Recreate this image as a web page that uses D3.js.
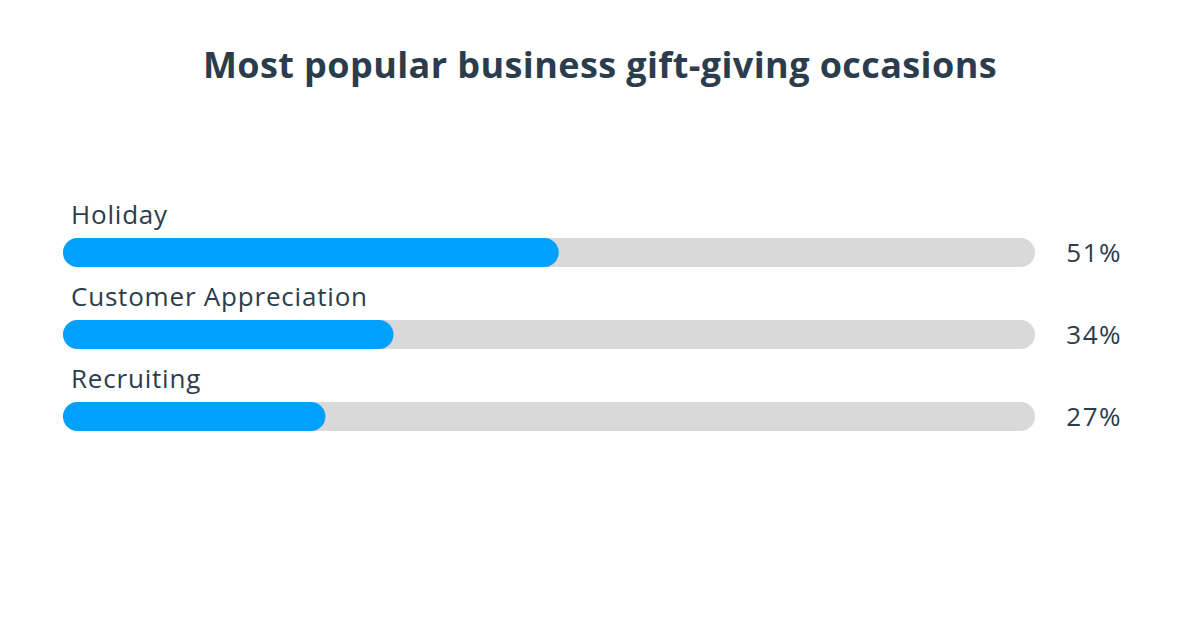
<!DOCTYPE html>
<html><head><meta charset="utf-8">
<script src="https://cdn.jsdelivr.net/npm/d3@7"></script>
<style>
html,body{margin:0;padding:0;background:#fff;}
text{font-family:"Open Sans","Lato",sans-serif;}
</style></head>
<body><svg id="chart" width="1200" height="628"></svg>
<script>
const title = "Most popular business gift-giving occasions";
const categories = ["Holiday", "Customer Appreciation", "Recruiting"];
const values = [51, 34, 27];
const valueLabels = ["51%", "34%", "27%"];

const svg = d3.select("#chart");
const textColor = "#2b3d4d";
svg.append("text").attr("x", 600).attr("y", 78).attr("text-anchor", "middle")
  .attr("font-size", 36).attr("font-weight", 700).attr("letter-spacing", 0.4)
  .attr("fill", textColor).text(title);

const x = d3.scaleLinear().domain([0, 100]).range([63, 1035]);
const y = d3.scaleBand().domain(categories).range([214, 460]).paddingInner(0);
const barH = 29;

const g = svg.append("g").selectAll("g").data(categories).join("g")
  .attr("transform", d => `translate(0,${y(d)})`);

g.append("text").attr("x", 71).attr("y", 10).attr("font-size", 26).attr("letter-spacing", 0.8)
  .attr("fill", textColor).text(d => d);
g.append("rect").attr("x", x(0)).attr("y", 24).attr("width", x(100) - x(0)).attr("height", barH)
  .attr("rx", barH / 2).attr("fill", "#d9d9d9");
g.append("rect").attr("x", x(0)).attr("y", 24).attr("width", (d, i) => x(values[i]) - x(0)).attr("height", barH)
  .attr("rx", barH / 2).attr("fill", "#00a0fe");
g.append("text").attr("x", 1122).attr("y", 24 + barH / 2 + 9).attr("text-anchor", "end")
  .attr("font-size", 26).attr("letter-spacing", 1.5)
  .attr("fill", textColor).text((d, i) => valueLabels[i]);
</script></body></html>
